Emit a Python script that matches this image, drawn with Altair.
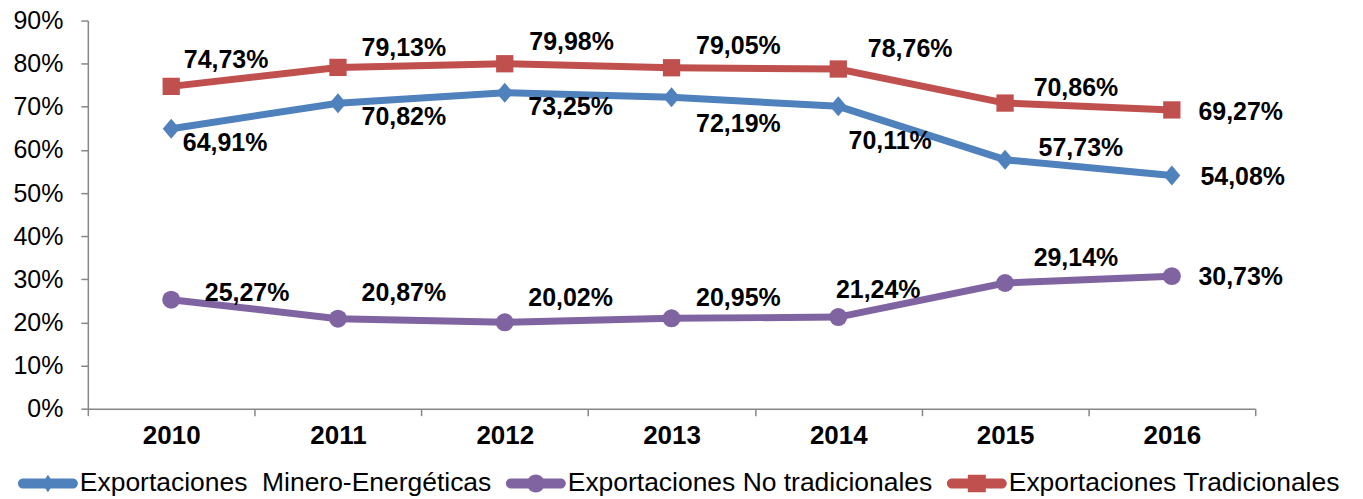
import altair as alt
import pandas as pd

years = ["2010", "2011", "2012", "2013", "2014", "2015", "2016"]
series_names = [
    "Exportaciones\u00a0 Minero-Energéticas",
    "Exportaciones No tradicionales",
    "Exportaciones Tradicionales",
]
minero = [64.91, 70.82, 73.25, 72.19, 70.11, 57.73, 54.08]
no_trad = [25.27, 20.87, 20.02, 20.95, 21.24, 29.14, 30.73]
trad = [74.73, 79.13, 79.98, 79.05, 78.76, 70.86, 69.27]

# label placement offsets (pixels, relative to the point)
minero_dx = [54, 66, 66, 67, 52, 76, 71]
minero_dy = [14, 14, 14, 27, 35, -12, 2]
no_trad_dx = [76, 66, 66, 67, 40, 71, 69]
no_trad_dy = [-7, -26, -24, -20, -27, -25, 1]
trad_dx = [55, 66, 67, 67, 72, 71, 69]
trad_dy = [-26, -19, -22, -22, -20, -15, 2]

colors = ["#4F81BD", "#8064A2", "#C0504D"]
marker_shapes = ["M0,-1L0.85,0L0,1L-0.85,0Z", "circle", "square"]
marker_sizes = [400, 324, 300]
legend_paths = [
    "M-0.83,-0.17H0.83A0.17,0.17 0 0,1 0.83,0.17H-0.83A0.17,0.17 0 0,1 -0.83,-0.17Z"
    "M0,-0.29L0.2,0L0,0.29L-0.2,0Z",
    "M-0.83,-0.17H0.83A0.17,0.17 0 0,1 0.83,0.17H-0.83A0.17,0.17 0 0,1 -0.83,-0.17Z"
    "M-0.3,0A0.3,0.3 0 1,1 0.3,0A0.3,0.3 0 1,1 -0.3,0Z",
    "M-0.83,-0.17H0.83A0.17,0.17 0 0,1 0.83,0.17H-0.83A0.17,0.17 0 0,1 -0.83,-0.17Z"
    "M-0.3,-0.29H0.3V0.29H-0.3Z",
]

values = [minero, no_trad, trad]
dxs = [minero_dx, no_trad_dx, trad_dx]
dys = [minero_dy, no_trad_dy, trad_dy]

frames = []
for name, vals, dx, dy in zip(series_names, values, dxs, dys):
    frames.append(pd.DataFrame({
        "year": years,
        "series": name,
        "value": [v / 100 for v in vals],
        "label": [f"{v:.2f}".replace(".", ",") + "%" for v in vals],
        "ldx": dx,
        "ldy": dy,
    }))
df = pd.concat(frames, ignore_index=True)

FONT = "Liberation Sans"

x_enc = alt.X(
    "year:N",
    scale=alt.Scale(type="band", paddingInner=0, paddingOuter=0),
    axis=alt.Axis(
        title=None, labelAngle=0, labelFont=FONT, labelFontSize=26,
        labelFontWeight="bold", labelColor="#000000", tickBand="extent",
        tickSize=7, tickColor="#868686", domainColor="#868686",
        domainWidth=1.5, tickWidth=1.5, labelPadding=7, grid=False,
    ),
)
y_enc = alt.Y(
    "value:Q",
    scale=alt.Scale(domain=[0, 0.9], nice=False),
    axis=alt.Axis(
        title=None, values=[i / 10 for i in range(10)], format=".0%",
        labelFont=FONT, labelFontSize=25, labelColor="#000000",
        tickSize=7, tickColor="#868686", domainColor="#868686",
        domainWidth=1.5, tickWidth=1.5, labelPadding=18, grid=False,
    ),
)

base = alt.Chart(df)
layers = []
for name, col, shp, sz in zip(series_names, colors, marker_shapes, marker_sizes):
    sub = base.transform_filter(alt.datum.series == name)
    layers.append(sub.mark_line(strokeWidth=7, color=col).encode(x=x_enc, y=y_enc))
    layers.append(sub.mark_point(filled=True, opacity=1, color=col, shape=shp,
                                 size=sz, strokeWidth=0).encode(x=x_enc, y=y_enc))

labels = base.mark_text(
    font=FONT, fontSize=25, fontWeight="bold", color="#000000",
    align="center", baseline="middle",
    dx=alt.ExprRef(expr="datum.ldx"), dy=alt.ExprRef(expr="datum.ldy"),
).encode(x=x_enc, y=y_enc, text="label:N")
layers.append(labels)

legend_layer = base.mark_point(filled=True, opacity=1, clip=True, strokeWidth=0).encode(
    x=x_enc,
    y=alt.value(-2000),
    color=alt.Color(
        "series:N",
        scale=alt.Scale(domain=series_names, range=colors),
        legend=alt.Legend(
            title=None, orient="none", legendX=-70, legendY=434,
            direction="horizontal", labelFont=FONT, labelFontSize=26.5,
            labelColor="#000000", labelLimit=0, labelOffset=2,
            columnPadding=14, gridAlign="none", symbolSize=3600,
            symbolStrokeWidth=0, padding=0,
        ),
    ),
    shape=alt.Shape("series:N", scale=alt.Scale(domain=series_names, range=legend_paths)),
)
layers.append(legend_layer)

chart = alt.layer(*layers).properties(
    width=1170, height=389,
    autosize=alt.AutoSizeParams(type="none"),
    padding={"left": 80, "top": 12, "right": 100, "bottom": 100},
).configure_view(stroke=None)

chart.save("out.html", embed_options={"renderer": "svg", "actions": False})
